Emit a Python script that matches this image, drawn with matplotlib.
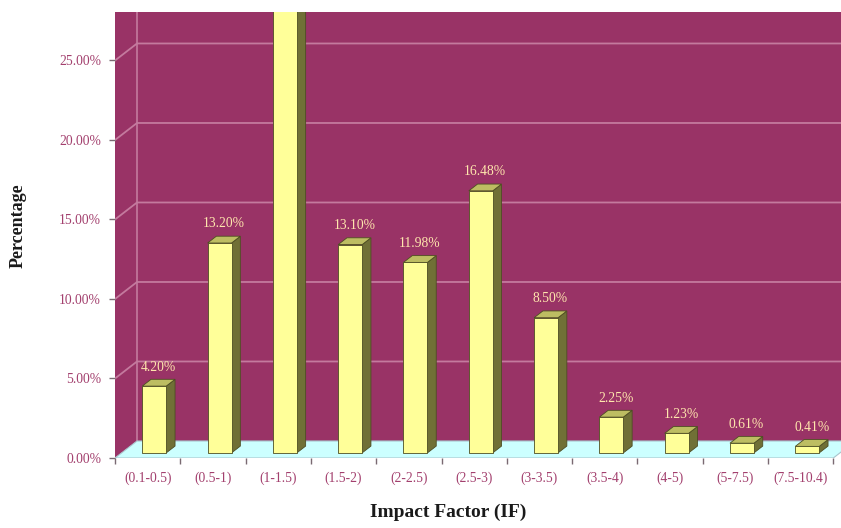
import matplotlib
matplotlib.use("Agg")
import matplotlib.pyplot as plt
from matplotlib.patches import Polygon

# Distribution of journals by impact factor band
categories = ["(0.1-0.5)", "(0.5-1)", "(1-1.5)", "(1.5-2)", "(2-2.5)", "(2.5-3)",
              "(3-3.5)", "(3.5-4)", "(4-5)", "(5-7.5)", "(7.5-10.4)"]
percentages = [4.20, 13.20, 28.04, 13.10, 11.98, 16.48, 8.50, 2.25, 1.23, 0.61, 0.41]
y_ticks = [0, 5, 10, 15, 20, 25]

WALL = "#993366"
GRID = "#c47a9e"
FLOOR = "#ccffff"
BAR_FRONT = "#ffff99"
BAR_SIDE = "#707036"
BAR_TOP = "#bdbd62"
BAR_EDGE = "#4d4d22"
LABEL = "#ffe6ad"
TICK_TXT = "#a3406e"
SERIF = ["Liberation Serif", "DejaVu Serif"]

fig = plt.figure(figsize=(8.41, 5.28), dpi=100)
ax = fig.add_axes([115 / 841, 70 / 528, 726 / 841, 446 / 528])
n = len(categories)
x_left, x_right = -0.5, n - 0.5
y_top = 28.05
ax.set_xlim(x_left, x_left + 726 / 65.3)
ax.set_ylim(0, y_top)
ax.patch.set_visible(False)
for s in ax.spines.values():
    s.set_visible(False)

# oblique depth offset of the 3-D box
DX, DY = 0.337, 1.07
big = y_top + 5

# side wall and back wall
ax.add_patch(Polygon([(x_left, 0), (x_left + DX, DY), (x_left + DX, big), (x_left, big)],
                     closed=True, facecolor=WALL, edgecolor="none", zorder=0))
ax.add_patch(Polygon([(x_left + DX, DY), (x_right + DX, DY), (x_right + DX, big), (x_left + DX, big)],
                     closed=True, facecolor=WALL, edgecolor="none", zorder=0))
ax.plot([x_left + DX, x_left + DX], [DY, big], color=GRID, lw=1.2, zorder=1)

# gridlines running across the side and back walls
for t in y_ticks[1:]:
    ax.plot([x_left, x_left + DX, x_right + DX], [t, t + DY, t + DY],
            color=GRID, lw=1.3, zorder=1)

# floor
ax.add_patch(Polygon([(x_left, 0), (x_right, 0), (x_right + DX, DY), (x_left + DX, DY)],
                     closed=True, facecolor=FLOOR, edgecolor="#a9c4cc", lw=0.8, zorder=2))

# 3-D columns
w = 0.367
z0, z1 = 0.3, 0.7
dz = z1 - z0
for i, v in enumerate(percentages):
    x0 = i - w / 2 + z0 * DX
    y0 = z0 * DY
    ddx, ddy = dz * DX, dz * DY
    front = [(x0, y0), (x0 + w, y0), (x0 + w, y0 + v), (x0, y0 + v)]
    side = [(x0 + w, y0), (x0 + w + ddx, y0 + ddy), (x0 + w + ddx, y0 + ddy + v), (x0 + w, y0 + v)]
    top = [(x0, y0 + v), (x0 + w, y0 + v), (x0 + w + ddx, y0 + v + ddy), (x0 + ddx, y0 + v + ddy)]
    ax.add_patch(Polygon(side, closed=True, facecolor=BAR_SIDE, edgecolor=BAR_EDGE, lw=0.6, zorder=3))
    ax.add_patch(Polygon(top, closed=True, facecolor=BAR_TOP, edgecolor=BAR_EDGE, lw=0.6, zorder=3))
    ax.add_patch(Polygon(front, closed=True, facecolor=BAR_FRONT, edgecolor=BAR_EDGE, lw=0.6, zorder=4))
    label_y = v + y0 + 1.2
    if label_y + 0.5 < y_top:  # a column running past the top keeps its label out of view
        ax.text(i + 0.5 * DX, label_y, f"{v:.2f}%", ha="center", va="center",
                color=LABEL, fontsize=9.8, family=SERIF, zorder=5)

# axes ticks and labels
ax.set_yticks(y_ticks)
ax.set_yticklabels([f"{t:.2f}%" for t in y_ticks])
ax.tick_params(axis="y", length=4, width=1, color="#7a6a72", pad=6,
               labelsize=9.8, labelcolor=TICK_TXT)
ax.set_xticks([x_left + k for k in range(n + 1)])
ax.set_xticklabels([])
ax.set_xticks(range(n), minor=True)
ax.set_xticklabels(categories, minor=True)
ax.tick_params(axis="x", which="major", length=4, width=1, color="#7a6a72")
ax.tick_params(axis="x", which="minor", length=0, pad=10, labelsize=9.8, labelcolor=TICK_TXT)
for lab in ax.get_xticklabels(minor=True) + ax.get_yticklabels():
    lab.set_family(SERIF)

fig.text(18 / 841, 1 - 226 / 528, "Percentage", rotation=90, ha="center", va="center",
         fontsize=13, fontweight="bold", family=SERIF, color="#1a1a1a")
fig.text(448 / 841, 1 - 512 / 528, "Impact Factor (IF)", ha="center", va="center",
         fontsize=14, fontweight="bold", family=SERIF, color="#1a1a1a")

fig.savefig("out.png", dpi=100)
